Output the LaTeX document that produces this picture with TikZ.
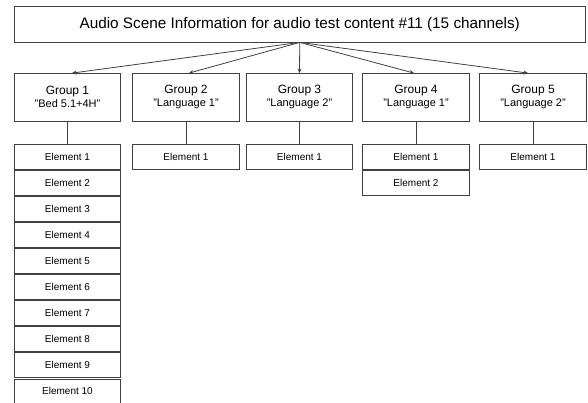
\documentclass[tikz,border=0pt]{standalone}
\usepackage{fontspec}
\setmainfont{Liberation Sans}
\usetikzlibrary{arrows.meta}

\tikzset{
	titlebox/.style = {draw, minimum width=571.5pt, minimum height=35.5pt, inner sep=0pt, font=\fontsize{15.3}{18}\selectfont},
	grpbox/.style   = {draw, minimum width=106.5pt, minimum height=47.5pt, inner sep=0pt, align=center, font=\fontsize{12}{11}\selectfont},
	elembox/.style  = {draw, minimum width=106.5pt, minimum height=25pt, inner sep=0pt, font=\fontsize{10}{12}\selectfont},
}
\newcommand{\grpname}[1]{{\fontsize{11}{11}\selectfont #1}}

\begin{document}
\begin{tikzpicture}[x=1pt, y=-1pt, draw=black!75, line width=0.8pt, >={Stealth[length=4.5pt, width=4pt]}]
	\useasboundingbox (0,0) rectangle (588,403);
	% scene and groups
	\node (T)  at (299.75, 24.25)	[titlebox]	{Audio Scene Information for audio test content \#11 (15 channels)};
	\node (G1) at ( 67.5, 97.25)	[grpbox]	{Group 1\\[2pt]\grpname{"Bed 5.1+4H"}};
	\node (G2) at (186.0, 97.25)	[grpbox]	{Group 2\\[2pt]\grpname{"Language 1"}};
	\node (G3) at (299.5, 97.25)	[grpbox]	{Group 3\\[2pt]\grpname{"Language 2"}};
	\node (G4) at (416.0, 97.25)	[grpbox]	{Group 4\\[2pt]\grpname{"Language 1"}};
	\node (G5) at (533.0, 97.25)	[grpbox]	{Group 5\\[2pt]\grpname{"Language 2"}};
	% elements
	\node (G1E1)  at ( 67.5, 156.5)	[elembox]	{Element 1};
	\node (G1E2)  at ( 67.5, 182.6)	[elembox]	{Element 2};
	\node (G1E3)  at ( 67.5, 208.7)	[elembox]	{Element 3};
	\node (G1E4)  at ( 67.5, 234.8)	[elembox]	{Element 4};
	\node (G1E5)  at ( 67.5, 260.9)	[elembox]	{Element 5};
	\node (G1E6)  at ( 67.5, 287.0)	[elembox]	{Element 6};
	\node (G1E7)  at ( 67.5, 313.1)	[elembox]	{Element 7};
	\node (G1E8)  at ( 67.5, 339.2)	[elembox]	{Element 8};
	\node (G1E9)  at ( 67.5, 365.3)	[elembox]	{Element 9};
	\node (G1E10) at ( 67.5, 391.4)	[elembox]	{Element 10};
	\node (G2E1)  at (186.0, 156.5)	[elembox]	{Element 1};
	\node (G3E1)  at (299.5, 156.5)	[elembox]	{Element 1};
	\node (G4E1)  at (416.0, 156.5)	[elembox]	{Element 1};
	\node (G4E2)  at (416.0, 182.6)	[elembox]	{Element 2};
	\node (G5E1)  at (533.0, 156.5)	[elembox]	{Element 1};
	% connectors
	\draw[->] (T.south) -- ([xshift=4.5pt]G1.north);
	\draw[->] (T.south) -- ([xshift=3pt]G2.north);
	\draw[->] (T.south) -- (G3.north);
	\draw[->] (T.south) -- ([xshift=-2pt]G4.north);
	\draw[->] (T.south) -- ([xshift=-5pt]G5.north);
	\draw (G1) -- (G1E1);
	\draw (G2) -- (G2E1);
	\draw (G3) -- (G3E1);
	\draw (G4) -- (G4E1);
	\draw (G5) -- (G5E1);
\end{tikzpicture}
\end{document}
